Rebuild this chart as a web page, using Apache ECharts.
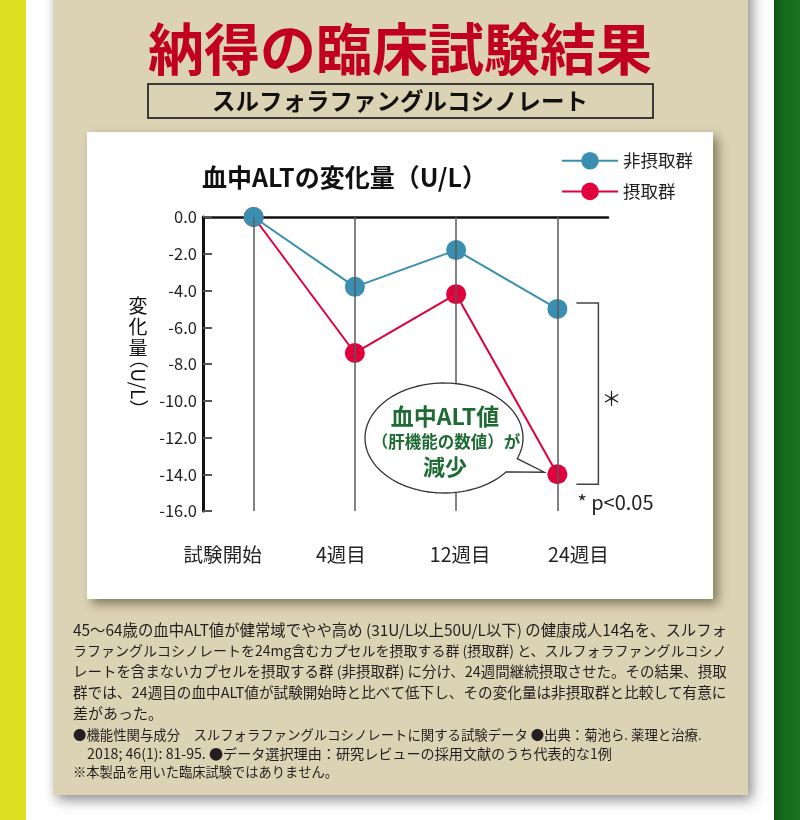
<!DOCTYPE html>
<html><head><meta charset="utf-8">
<script src="https://cdn.jsdelivr.net/npm/echarts@6/dist/echarts.min.js"></script>
<style>html,body{margin:0;padding:0;background:#fff;}#c{width:800px;height:820px;}</style>
</head><body><div id="c"></div>
<script>
// ---- data ----
const categories = ['試験開始', '4週目', '12週目', '24週目'];
const seriesNames = ['非摂取群', '摂取群'];
const nonIntake = [0, -3.8, -1.8, -5.0];
const intake = [0, -7.4, -4.2, -14.0];
const yTicks = [0, -2, -4, -6, -8, -10, -12, -14, -16];
const labelShift = [-31, -14, 4, 21];

const FONT = "'Noto Sans CJK JP', 'Noto Sans', sans-serif";
const BLUE = '#3a8fb0';
const RED = '#e0003c';
const chart = echarts.init(document.getElementById('c'), null, {renderer: 'canvas'});

const rich = {};
labelShift.forEach((s, i) => {
  rich['l' + i] = {fontSize: 19.5, fontFamily: FONT, color: '#222',
    padding: s < 0 ? [0, -2 * s, 0, 0] : [0, 0, 0, 2 * s]};
});

chart.setOption({
  animation: false,
  grid: {left: 203, right: 192, top: 217, bottom: 309},
  legend: {
    data: seriesNames, orient: 'vertical', left: 556, top: 147,
    itemWidth: 56, itemHeight: 22, itemGap: 13,
    textStyle: {fontSize: 17.5, fontFamily: FONT, color: '#222'}
  },
  xAxis: [{
    type: 'category', data: categories, position: 'top', boundaryGap: true,
    axisLine: {onZero: false, lineStyle: {color: '#111', width: 2.5}},
    axisTick: {show: false}, axisLabel: {show: false}, splitLine: {show: false}
  }, {
    type: 'category', data: categories, position: 'bottom', boundaryGap: true,
    axisLine: {show: false}, axisTick: {show: false},
    axisLabel: {margin: 34, formatter: (v, i) => '{l' + i + '|' + v + '}', rich: rich},
    splitLine: {show: false}
  }],
  yAxis: {
    type: 'value', min: yTicks[yTicks.length - 1], max: yTicks[0], interval: 2,
    axisLine: {show: true, lineStyle: {color: '#111', width: 3}},
    axisTick: {show: true, inside: true, length: 9, lineStyle: {color: '#555', width: 2}},
    axisLabel: {formatter: v => v.toFixed(1), fontSize: 16.5, fontFamily: FONT, color: '#222', margin: 6},
    splitLine: {show: false}
  },
  series: [{
    type: 'line', name: '', data: categories.map(() => '-'), z: 1, silent: true,
    markLine: {
      silent: true, symbol: ['none', 'none'], label: {show: false},
      lineStyle: {color: '#5a5a5a', width: 1.5, type: 'solid'},
      data: categories.map(c => ({xAxis: c}))
    }
  }, {
    type: 'line', name: seriesNames[0], data: nonIntake, z: 4, clip: false,
    symbol: 'circle', symbolSize: 20,
    lineStyle: {color: BLUE, width: 2}, itemStyle: {color: BLUE}
  }, {
    type: 'line', name: seriesNames[1], data: intake, z: 3, clip: false,
    symbol: 'circle', symbolSize: 20,
    lineStyle: {color: RED, width: 2}, itemStyle: {color: RED}
  }]
});

// ---- decorations / annotations ----
const px = (i, v) => chart.convertToPixel({gridIndex: 0}, [i, v]);
const pB = px(3, nonIntake[3]);
const pR = px(3, intake[3]);

const bodyLines = [
  '45〜64歳の血中ALT値が健常域でやや高め (31U/L以上50U/L以下) の健康成人14名を、スルフォ',
  'ラファングルコシノレートを24mg含むカプセルを摂取する群 (摂取群) と、スルフォラファングルコシノ',
  'レートを含まないカプセルを摂取する群 (非摂取群) に分け、24週間継続摂取させた。その結果、摂取',
  '群では、24週目の血中ALT値が試験開始時と比べて低下し、その変化量は非摂取群と比較して有意に',
  '差があった。'
];
const noteLines = [
  '●機能性関与成分　スルフォラファングルコシノレートに関する試験データ ●出典：菊池ら. 薬理と治療.',
  '　2018; 46(1): 81-95. ●データ選択理由：研究レビューの採用文献のうち代表的な1例',
  '※本製品を用いた臨床試験ではありません。'
];
const noteWidths = [629, 539, 265];
const ctx = document.createElement('canvas').getContext('2d');
function fitSize(text, base, maxW, full) {
  ctx.font = base + 'px ' + FONT;
  const w = ctx.measureText(text).width;
  if (!full) return Math.min(base, base * maxW / w);
  return Math.min(base * 1.08, base * maxW / w);
}

// balloon outline (ellipse + tail to the 24-week intake point)
const cx = 444, cy = 438, rx = 79, ry = 55;
const tip = [pR[0] - 13, pR[1] - 2];
const a1 = 22 * Math.PI / 180;
const pts = [];
for (let d = 38; d <= 360 + 22; d += 3) {
  const a = d * Math.PI / 180;
  pts.push([cx + rx * Math.cos(a), cy + ry * Math.sin(a)]);
}
pts.push([cx + rx * Math.cos(a1), cy + ry * Math.sin(a1)]);
pts.push(tip);

const g = [];
g.push({type: 'rect', z: -20, shape: {x: 0, y: 0, width: 26, height: 820}, style: {fill: '#dce021'}});
g.push({type: 'rect', z: -20, shape: {x: 774, y: 0, width: 26, height: 820},
  style: {fill: new echarts.graphic.LinearGradient(0, 0, 1, 0, [{offset: 0, color: '#0e5413'}, {offset: 0.4, color: '#176c1b'}, {offset: 1, color: '#1a721e'}])}});
g.push({type: 'rect', z: -19, shape: {x: 53, y: -20, width: 695, height: 815},
  style: {fill: '#dbd3b3', shadowBlur: 12, shadowOffsetX: 4, shadowOffsetY: 5, shadowColor: 'rgba(0,0,0,0.45)'}});
g.push({type: 'rect', z: -18, shape: {x: 87, y: 132, width: 626, height: 467},
  style: {fill: '#ffffff', shadowBlur: 10, shadowOffsetX: 5, shadowOffsetY: 5, shadowColor: 'rgba(60,50,20,0.55)'}});
g.push({type: 'text', z: 10, style: {text: '納得の臨床試験結果', x: 400, y: 49, align: 'center', verticalAlign: 'middle',
  font: 'bold 56px ' + FONT, fill: '#c1001f'}});
g.push({type: 'rect', z: 10, shape: {x: 148, y: 84, width: 505, height: 34},
  style: {fill: 'transparent', stroke: '#3a3a3a', lineWidth: 2}});
g.push({type: 'text', z: 10, style: {text: 'スルフォラファングルコシノレート', x: 400, y: 101, align: 'center', verticalAlign: 'middle',
  font: 'bold 23.5px ' + FONT, fill: '#111'}});
g.push({type: 'text', z: 10, style: {text: '血中ALTの変化量（U/L）', x: 202, y: 177, align: 'left', verticalAlign: 'middle',
  font: 'bold 25px ' + FONT, fill: '#111'}});
g.push({type: 'text', z: 10, style: {text: '変\n化\n量', x: 138, y: 295, align: 'center', verticalAlign: 'top',
  font: '19px ' + FONT, lineHeight: 21, fill: '#111'}});
g.push({type: 'text', z: 10, x: 138, y: 384, rotation: -Math.PI / 2,
  style: {text: '（U/L）', x: 0, y: 0, align: 'center', verticalAlign: 'middle', font: '19px ' + FONT, fill: '#111'}});
bodyLines.forEach((t, i) => {
  const fs = fitSize(t, 15, 654, i < bodyLines.length - 1);
  g.push({type: 'text', z: 10,
    style: {text: t, x: 73, y: 630 + i * 20.8, align: 'left', verticalAlign: 'middle', font: fs.toFixed(2) + 'px ' + FONT, fill: '#231f20'}});
});
noteLines.forEach((t, i) => {
  const fs = fitSize(t, 13.5, noteWidths[i], true);
  g.push({type: 'text', z: 10,
    style: {text: t, x: 73, y: 735 + i * 18.5, align: 'left', verticalAlign: 'middle', font: fs.toFixed(2) + 'px ' + FONT, fill: '#231f20'}});
});
// significance bracket
g.push({type: 'polyline', z: 10, shape: {points: [[pB[0] + 19, pB[1] - 6], [pB[0] + 41, pB[1] - 6], [pR[0] + 41, pR[1] + 10], [pR[0] + 19, pR[1] + 10]]},
  style: {stroke: '#444', lineWidth: 1.5, fill: 'none'}});
g.push({type: 'text', z: 10, style: {text: '＊', x: pR[0] + 54, y: (pB[1] + pR[1]) / 2 + 7, align: 'center', verticalAlign: 'middle',
  font: '20px ' + FONT, fill: '#222'}});
g.push({type: 'text', z: 10, style: {text: '* p<0.05', x: pR[0] + 20, y: pR[1] + 28, align: 'left', verticalAlign: 'middle',
  font: '20px ' + FONT, fill: '#222'}});
// balloon
g.push({type: 'polygon', z: 100, shape: {points: pts}, style: {fill: '#fff', stroke: '#333', lineWidth: 1.3}});
g.push({type: 'text', z: 101, style: {text: '血中ALT値', x: cx + 1, y: 416, align: 'center', verticalAlign: 'middle',
  font: 'bold 23px ' + FONT, fill: '#1e6b33'}});
g.push({type: 'text', z: 101, style: {text: '（肝機能の数値）が', x: cx + 2, y: 442, align: 'center', verticalAlign: 'middle',
  font: 'bold 16.5px ' + FONT, fill: '#1e6b33'}});
g.push({type: 'text', z: 101, style: {text: '減少', x: cx + 1, y: 467, align: 'center', verticalAlign: 'middle',
  font: 'bold 22px ' + FONT, fill: '#1e6b33'}});

chart.setOption({graphic: g});
</script>
</body></html>
